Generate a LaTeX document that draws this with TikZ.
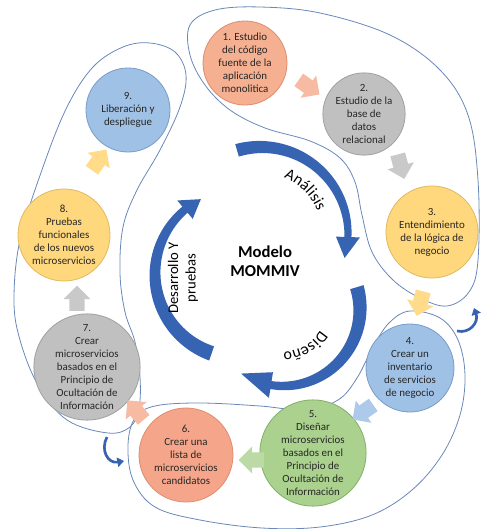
\documentclass[tikz,border=0pt]{standalone}
\usepackage{fontspec}
\setmainfont{Carlito}
\usetikzlibrary{shapes.arrows,decorations.text,arrows.meta}
\definecolor{cOr}{RGB}{245,175,145}
\definecolor{cOrD}{RGB}{222,140,110}
\definecolor{cGr}{RGB}{192,192,192}
\definecolor{cGrD}{RGB}{160,160,160}
\definecolor{cYe}{RGB}{255,215,125}
\definecolor{cYeD}{RGB}{225,185,95}
\definecolor{cBl}{RGB}{160,193,230}
\definecolor{cBlD}{RGB}{120,155,200}
\definecolor{cGn}{RGB}{170,209,142}
\definecolor{cGnD}{RGB}{130,175,105}
\definecolor{arcblue}{RGB}{55,100,178}
\definecolor{lobe}{RGB}{105,135,185}
\newcommand\circarrow[9]{%
 \fill[arcblue] plot[domain=0:1,samples=50,variable=\t]
   ({#1+(#3+((#7)+((#8)-(#7))*\t)/2)*cos((#4)+((#5)-(#4))*\t)},
    {#2+(#3+((#7)+((#8)-(#7))*\t)/2)*sin((#4)+((#5)-(#4))*\t)})
  -- ({#1+(#3+(#9)/2)*cos(#5)},{#2+(#3+(#9)/2)*sin(#5)})
  -- ({#1+#3*cos(#6)},{#2+#3*sin(#6)})
  -- ({#1+(#3-(#9)/2)*cos(#5)},{#2+(#3-(#9)/2)*sin(#5)})
  -- plot[domain=0:1,samples=50,variable=\t]
   ({#1+(#3-((#8)+((#7)-(#8))*\t)/2)*cos((#5)+((#4)-(#5))*\t)},
    {#2+(#3-((#8)+((#7)-(#8))*\t)/2)*sin((#5)+((#4)-(#5))*\t)})
  -- cycle;}
\tikzset{
  circ/.style={circle, align=center, inner sep=0pt, line width=0.6pt,
    font=\fontsize{8.2}{9.8}\selectfont, text=black!85},
  blk/.style={single arrow, minimum height=19pt, minimum width=20pt,
    single arrow head extend=4.5pt, inner sep=5.5pt, draw=none},
  lobeline/.style={draw=lobe, line width=0.6pt},
  smallarr/.style={draw=arcblue, line width=2pt, -{Triangle[length=5pt,width=7pt]}}
}
\begin{document}
\begin{tikzpicture}[x=0.75pt,y=0.75pt]
\useasboundingbox (0,0) rectangle (480,-529);
% lobes
\draw[lobeline] plot[smooth cycle, tension=0.6] coordinates {
 (190,-25) (215,-10) (260,-7) (320,-13) (390,-35) (440,-70) (468,-115) (478,-180)
 (478,-260) (469,-292) (447,-306) (420,-298) (393,-280) (372,-252) (362,-215)
 (355,-182) (340,-158) (310,-141) (265,-128) (230,-110) (205,-85) (190,-55)};
\draw[lobeline] plot[smooth cycle, tension=0.6] coordinates {
 (410,-311) (440,-318) (458,-340) (465,-375) (460,-415) (442,-455) (412,-490)
 (372,-515) (320,-527) (262,-528) (200,-520) (155,-507) (133,-480) (128,-445)
 (135,-418) (155,-406) (200,-403) (260,-406) (305,-410) (338,-400) (357,-378)
 (374,-345) (390,-322)};
\draw[lobeline] plot[smooth cycle, tension=0.6] coordinates {
 (14,-300) (20,-240) (43,-167) (67,-107) (93,-67) (123,-47) (150,-43) (175,-52)
 (186,-75) (180,-107) (160,-150) (137,-190) (123,-227) (120,-273) (125,-312)
 (135,-342) (140,-377) (139,-408) (130,-427) (108,-433) (67,-420) (38,-385)
 (20,-340)};
% big arcs
\circarrow{261}{-234}{87}{106}{-2}{-16}{13}{7}{24}
\circarrow{283}{-309}{77}{16.5}{-99}{-123}{14}{8}{26}
\circarrow{239}{-274}{84}{251}{130}{117}{15}{8}{24}
\path[decorate,decoration={text along path,text align=center,
  text={|\fontsize{12}{14}\selectfont|Análisis}}]
  (261,-234) ++(105:61) arc[start angle=105,end angle=-15,radius=61];
\path[decorate,decoration={text along path,text align=center,
  text={|\fontsize{12}{14}\selectfont|Diseño}}]
  (283,-309) ++(10:43) arc[start angle=10,end angle=-130,radius=43];
\node[rotate=90, align=center, font=\fontsize{11}{13}\selectfont] (dev) at (183,-278)
  {Desarrollo Y\\pruebas};
\node[align=center, font=\fontsize{12.5}{14.5}\selectfont\bfseries] (model) at (265,-261)
  {Modelo\\MOMMIV};
% circles
\node[circ, fill=cOr, draw=cOrD, minimum size=84*0.75pt] (c1) at (245,-63)
  {1. Estudio\\del código\\fuente de la\\aplicación\\monolitica};
\node[circ, fill=cGr, draw=cGrD, minimum size=80*0.75pt] (c2) at (364,-114)
  {2.\\Estudio de la\\base de\\datos\\relacional};
\node[circ, fill=cYe, draw=cYeD, minimum size=92*0.75pt] (c3) at (432,-232)
  {3.\\Entendimiento\\de la lógica de\\negocio};
\node[circ, fill=cBl, draw=cBlD, minimum size=88*0.75pt] (c4) at (410,-368)
  {4.\\Crear un\\inventario\\de servicios\\de negocio};
\node[circ, fill=cGn, draw=cGnD, minimum size=94*0.75pt] (c5) at (313,-453)
  {5.\\Diseñar\\microservicios\\basados en el\\Principio de\\Ocultación de\\Información};
\node[circ, fill=cOr!95!red, draw=cOrD, minimum size=94*0.75pt] (c6) at (186,-455)
  {6.\\Crear una\\lista de\\microservicios\\candidatos};
\node[circ, fill=cGr, draw=cGrD, minimum size=96*0.75pt] (c7) at (87,-367)
  {7.\\Crear\\microservicios\\basados en el\\Principio de\\Ocultación de\\Información};
\node[circ, fill=cYe, draw=cYeD, minimum size=92*0.75pt] (c8) at (64,-235)
  {8.\\Pruebas\\funcionales\\de los nuevos\\microservicios};
\node[circ, fill=cBl, draw=cBlD, minimum size=84*0.75pt] (c9) at (128,-110)
  {9.\\Liberación y\\despliegue};
% block arrows
\node[blk, fill=cOr!85, rotate=-35] (a12) at (306,-85) {};
\node[blk, fill=cGr!85, rotate=-75] (a23) at (400,-163) {};
\node[blk, fill=cYe!90, rotate=-105] (a34) at (421,-300) {};
\node[blk, fill=cBl!85, rotate=-145] (a45) at (366,-410) {};
\node[blk, fill=cGn!80, rotate=180] (a56) at (255,-460) {};
\node[blk, fill=cOr!85, rotate=130] (a67) at (138,-413) {};
\node[blk, fill=cGr!85, rotate=90] (a78) at (77,-302) {};
\node[blk, fill=cYe!90, rotate=55] (a89) at (97,-163) {};
% small curved arrows
\coordinate (s1a) at (457,-331);
\coordinate (s1b) at (474,-308);
\draw[smallarr] (s1a) .. controls (470,-334) and (479,-322) .. (s1b);
\coordinate (s2a) at (107,-437);
\coordinate (s2b) at (124,-461);
\draw[smallarr] (s2a) .. controls (100,-450) and (108,-464) .. (s2b);
\end{tikzpicture}
\end{document}
